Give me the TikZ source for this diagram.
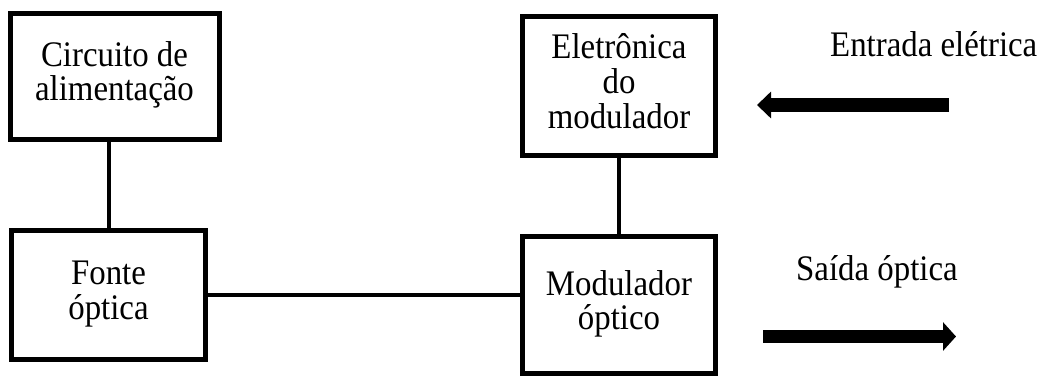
\documentclass[tikz,border=0pt]{standalone}
\usepackage{fontspec}
\usepackage{graphicx}
\setmainfont{Liberation Serif}
\usetikzlibrary{arrows.meta}
\newcommand{\tallt}[1]{\scalebox{1.06}[1.16]{\begin{tabular}{@{}c@{}}#1\end{tabular}}}
\begin{document}
\begin{tikzpicture}[x=1pt,y=-1pt,
  box/.style={draw=black,line width=5pt,rectangle,align=center,inner sep=0pt,
    font=\fontsize{31}{28.5}\selectfont},
  link/.style={draw=black,line width=4pt},
  lbl/.style={inner sep=0pt,anchor=base west,font=\fontsize{31}{28.5}\selectfont},
  bigarrow/.style={draw=black,line width=14pt}]
\useasboundingbox (0,0) rectangle (1049,376);
\node[box,minimum width=209pt,minimum height=126pt] (circ) at (114.5,76) {\tallt{Circuito de\\alimentação}};
\node[box,minimum width=194pt,minimum height=129pt] (fonte) at (108.5,295) {\tallt{Fonte\\óptica}};
\node[box,minimum width=193pt,minimum height=139pt] (elet) at (619,86) {\tallt{Eletrônica\\do\\modulador}};
\node[box,minimum width=193pt,minimum height=137pt] (mod) at (619,305) {\tallt{Modulador\\óptico}};
\draw[link] (fonte.north) -- (fonte.north |- circ.south);
\draw[link] (elet.south) -- (elet.south |- mod.north);
\draw[link] (fonte.east) -- (fonte.east -| mod.west);
\node[lbl] (entrada) at (830,56) {\scalebox{1.06}[1.16]{Entrada elétrica}};
\node[lbl] (saida) at (796,280) {\scalebox{1.06}[1.16]{Saída óptica}};
\coordinate (inA) at (949,105);
\coordinate (inB) at (757,105);
\coordinate (outA) at (763,336.5);
\coordinate (outB) at (956,336.5);
\draw[bigarrow,-{Triangle[width=26pt,length=14pt]}] (inA) -- (inB);
\draw[bigarrow,line width=13.5pt,-{Triangle[width=28pt,length=13pt]}] (outA) -- (outB);
\end{tikzpicture}
\end{document}
